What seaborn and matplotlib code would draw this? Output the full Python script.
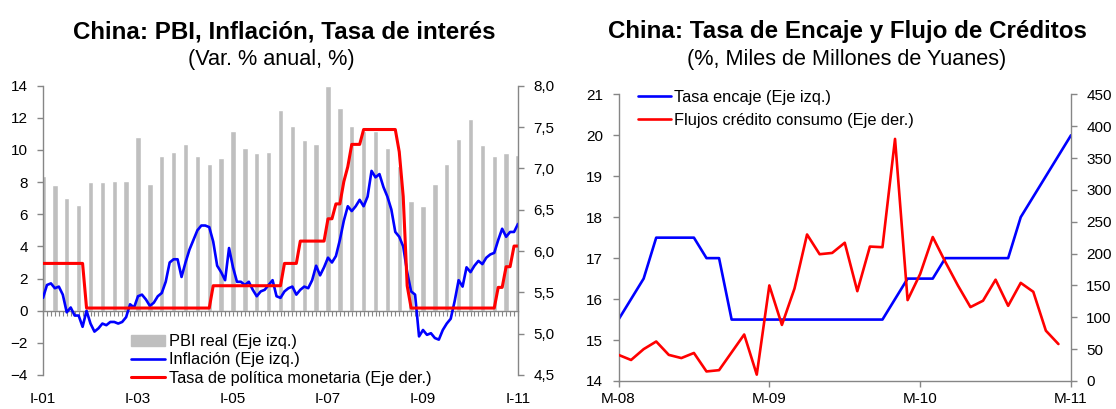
import numpy as np
import pandas as pd
import seaborn as sns
import matplotlib.pyplot as plt
from matplotlib.ticker import FuncFormatter, MultipleLocator
from matplotlib.patches import Patch
from matplotlib.lines import Line2D

# ---------------- data: left panel (monthly, Mar-01 .. Mar-11) ----------------
inflacion = [0.8, 1.6, 1.7, 1.4, 1.5, 1.0, -0.1, 0.2, -0.3, -0.3,
             -1.0, 0.0, -0.8, -1.3, -1.1, -0.8, -0.9, -0.7, -0.7, -0.8, -0.7, -0.4,
             0.4, 0.2, 0.9, 1.0, 0.7, 0.3, 0.5, 0.9, 1.1, 1.8, 3.0, 3.2,
             3.2, 2.1, 3.0, 3.8, 4.4, 5.0, 5.3, 5.3, 5.2, 4.3, 2.8, 2.4,
             1.9, 3.9, 2.7, 1.8, 1.8, 1.6, 1.8, 1.3, 0.9, 1.2, 1.3, 1.6,
             1.9, 0.9, 0.8, 1.2, 1.4, 1.5, 1.0, 1.3, 1.5, 1.4, 1.9, 2.8,
             2.2, 2.7, 3.3, 3.0, 3.4, 4.4, 5.6, 6.5, 6.2, 6.5, 6.9, 6.5,
             7.1, 8.7, 8.3, 8.5, 7.7, 7.1, 6.3, 4.9, 4.6, 4.0, 2.4, 1.2,
             1.0, -1.6, -1.2, -1.5, -1.4, -1.7, -1.8, -1.2, -0.8, -0.5, 0.6, 1.9,
             1.5, 2.7, 2.4, 2.8, 3.1, 2.9, 3.3, 3.5, 3.6, 4.4, 5.1, 4.6,
             4.9, 4.9, 5.4]

tasa_pm = ([5.85] * 11 + [5.31] * 32 + [5.58] * 18 + [5.85] * 4 + [6.12] * 7
           + [6.39] * 2 + [6.57] * 2 + [6.84] + [7.02] + [7.29] * 3 + [7.47] * 9
           + [7.20] + [6.66] + [5.58] + [5.31] * 22 + [5.56] * 2 + [5.81] * 2 + [6.06] * 2)

# quarterly real GDP growth, Q1-01 .. Q1-11
pbi_real = [8.4, 7.8, 7.0, 6.6, 8.0, 8.0, 8.1, 8.1, 10.8, 7.9, 9.6, 9.9,
            10.4, 9.6, 9.1, 9.5, 11.2, 10.1, 9.8, 9.9, 12.5, 11.5, 10.6, 10.4,
            14.0, 12.6, 11.5, 11.2, 11.2, 10.1, 9.0, 6.8, 6.5, 7.9, 9.1, 10.7,
            11.9, 10.3, 9.6, 9.8, 9.7]

labels_izq = ['I-01', 'I-03', 'I-05', 'I-07', 'I-09', 'I-11']

# ---------------- data: right panel (monthly, Mar-08 .. Mar-11) ----------------
tasa_encaje = ([15.5, 16.0, 16.5] + [17.5] * 4 + [17.0] * 2 + [15.5] * 13
               + [16.0] + [16.5] * 3 + [17.0] * 6 + [18.0, 18.5, 19.0, 19.5, 20.0])

flujos_credito = [41, 33, 50, 62, 41, 36, 44, 15, 17, 45, 73, 10,
                  150, 88, 145, 230, 199, 201, 217, 141, 211, 210, 380, 127,
                  168, 226, 187, 150, 116, 126, 159, 118, 154, 140, 79, 58]

labels_der = ['M-08', 'M-09', 'M-10', 'M-11']

df_m = pd.DataFrame({'mes': np.arange(len(inflacion)), 'inflacion': inflacion, 'tasa': tasa_pm})
df_q = pd.DataFrame({'mes': np.arange(len(pbi_real)) * 3, 'pbi': pbi_real})
df_e = pd.DataFrame({'mes': np.arange(len(tasa_encaje)), 'encaje': tasa_encaje})
df_c = pd.DataFrame({'mes': np.arange(len(flujos_credito)), 'credito': flujos_credito})

sns.set_theme(style='ticks')
plt.rcParams['font.family'] = ['Liberation Sans', 'DejaVu Sans']
plt.rcParams['text.color'] = 'black'

GRAY = '#868686'
BLUE = '#0000FF'
RED = '#FF0000'
BAR = '#BFBFBF'
W, H = 1116, 409

fig = plt.figure(figsize=(W / 100, H / 100), dpi=100)
comma = FuncFormatter(lambda v, p: f'{v:.1f}'.replace('.', ','))


def style_spines(a, keep):
    for s in ['left', 'right', 'top', 'bottom']:
        a.spines[s].set_visible(s in keep)
        a.spines[s].set_color(GRAY)
        a.spines[s].set_linewidth(1.0)
    a.tick_params(colors=GRAY, labelcolor='black', labelsize=11, length=4, width=1, pad=7)


# ---------------- left panel ----------------
ax = fig.add_axes([43 / W, 1 - 375 / H, 475 / W, 289.3 / H])
sns.barplot(data=df_q, x='mes', y='pbi', native_scale=True, width=0.45,
            color=BAR, saturation=1, errorbar=None, ax=ax, zorder=1)
sns.lineplot(data=df_m, x='mes', y='inflacion', color=BLUE, lw=1.9, ax=ax, zorder=3)
ax.set_ylim(-4, 14)
ax.set_xlim(0, len(inflacion) - 1)
ax.yaxis.set_major_locator(MultipleLocator(2))
style_spines(ax, ['left', 'bottom'])
ax.spines['bottom'].set_position(('data', 0))
ax.set_xticks(df_m['mes'])
ax.tick_params(axis='x', labelbottom=False, length=3.5, width=0.8)
ax.set_xlabel('')
ax.set_ylabel('')

sec = ax.secondary_xaxis('bottom')
sec.set_xticks(df_m['mes'][::24], labels_izq)
sec.spines['bottom'].set_visible(False)
sec.tick_params(length=0, labelsize=11, pad=12, labelcolor='black')

ax2 = ax.twinx()
sns.lineplot(data=df_m, x='mes', y='tasa', color=RED, lw=2.2, ax=ax2)
ax2.set_ylim(4.5, 8.0)
ax2.yaxis.set_major_locator(MultipleLocator(0.5))
ax2.yaxis.set_major_formatter(comma)
style_spines(ax2, ['right'])
ax2.set_ylabel('')

handles = [Patch(color=BAR), Line2D([], [], color=BLUE, lw=1.9), Line2D([], [], color=RED, lw=2.2)]
fig.legend(handles, ['PBI real (Eje izq.)', 'Inflación (Eje izq.)', 'Tasa de política monetaria (Eje der.)'],
           loc='upper left', bbox_to_anchor=(131 / W, 1 - 334 / H), frameon=False,
           fontsize=11.8, handlelength=2.1, handletextpad=0.2, labelspacing=0.2,
           borderpad=0, borderaxespad=0)

fig.text(284 / W, 1 - 38 / H, 'China: PBI, Inflación, Tasa de interés',
         ha='center', va='baseline', fontsize=17.4, fontweight='bold', color='black')
fig.text(271 / W, 1 - 65 / H, '(Var. % anual, %)', ha='center', va='baseline',
         fontsize=15.6, color='black')

# ---------------- right panel ----------------
ax3 = fig.add_axes([618.5 / W, 1 - 381 / H, 452.5 / W, 286.7 / H])
sns.lineplot(data=df_e, x='mes', y='encaje', color=BLUE, lw=1.9, ax=ax3)
ax3.set_ylim(14, 21)
ax3.set_xlim(0, len(tasa_encaje) - 1)
ax3.set_xticks(df_e['mes'][::12], labels_der)
style_spines(ax3, ['left', 'bottom'])
ax3.tick_params(axis='x', pad=4)
ax3.set_xlabel('')
ax3.set_ylabel('')

ax4 = ax3.twinx()
sns.lineplot(data=df_c, x='mes', y='credito', color=RED, lw=1.9, ax=ax4)
ax4.set_ylim(0, 450)
ax4.yaxis.set_major_locator(MultipleLocator(50))
style_spines(ax4, ['right'])
ax4.set_ylabel('')

handles_r = [Line2D([], [], color=BLUE, lw=1.9), Line2D([], [], color=RED, lw=1.9)]
fig.legend(handles_r, ['Tasa encaje (Eje izq.)', 'Flujos crédito consumo (Eje der.)'],
           loc='upper left', bbox_to_anchor=(638 / W, 1 - 90 / H), frameon=False,
           fontsize=11.8, handlelength=2.0, handletextpad=0.2, labelspacing=0.5,
           borderpad=0, borderaxespad=0)

fig.text(847 / W, 1 - 38 / H, 'China: Tasa de Encaje y Flujo de Créditos',
         ha='center', va='baseline', fontsize=17.4, fontweight='bold', color='black')
fig.text(847 / W, 1 - 65 / H, '(%, Miles de Millones de Yuanes)', ha='center', va='baseline',
         fontsize=15.6, color='black')

fig.savefig('out.png', dpi=100)
